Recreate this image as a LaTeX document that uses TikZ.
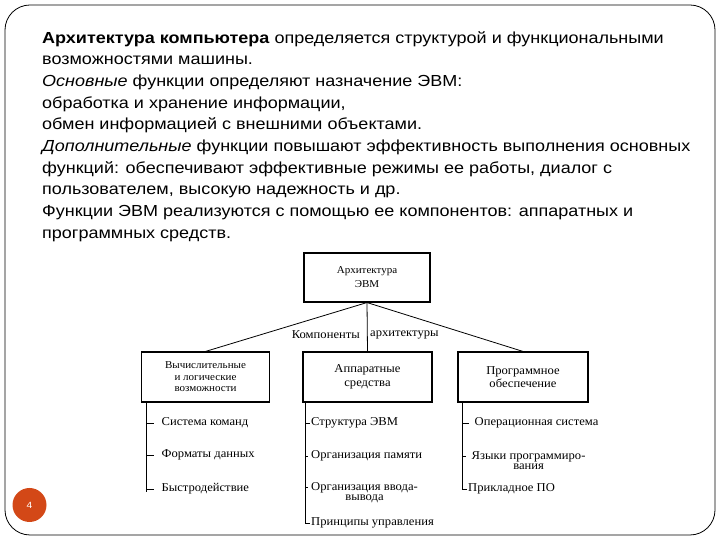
\documentclass[tikz,border=0pt]{standalone}
\usepackage{fontspec}
\setmainfont[FakeStretch=1.125]{Liberation Sans}
\newfontfamily\schemefont[FakeStretch=1.05]{Liberation Serif}
\usetikzlibrary{positioning}
\definecolor{pagedot}{HTML}{D34817}

\begin{document}
\begin{tikzpicture}[x=1pt, y=1pt,
    box/.style={rectangle, draw=black, line width=1.1pt, align=center, inner sep=2pt,
      font=\schemefont\fontsize{12}{13.5}\selectfont},
    item/.style={anchor=west, align=center, inner sep=1.5pt,
      font=\schemefont\fontsize{12}{10.5}\selectfont},
    link/.style={draw=black, line width=0.8pt},
    tick/.style={link, shorten >=#1},
    tick/.default=6pt
  ]
  \useasboundingbox (0,0) rectangle (720,540);

  % Slide frame and page number
  \draw[line width=0.8pt, rounded corners=25pt] (5,5) rectangle (715,535);
  \node[circle, fill=pagedot, minimum size=34pt, inner sep=0pt, text=white,
    font=\fontsize{9}{10}\selectfont] (pagenum) at (29.5,35) {4};

  % Slide text
  \node[anchor=north west, align=left, inner sep=0pt, font=\fontsize{16}{21.7}\selectfont] (intro) at (42,509) {%
    \textbf{Архитектура компьютера} определяется структурой и функциональными\\
    возможностями машины.\\
    \textit{Основные} функции определяют назначение ЭВМ:\\
    обработка и хранение информации,\\
    обмен информацией с внешними объектами.\\
    \textit{Дополнительные} функции повышают эффективность выполнения основных\\
    функций: обеспечивают эффективные режимы ее работы, диалог с\\
    пользователем, высокую надежность и др.\\
    Функции ЭВМ реализуются с помощью ее компонентов: аппаратных и\\
    программных средств.};

  % Boxes manually positioned
  \node[box, minimum width=126pt, minimum height=49pt,
    font=\schemefont\fontsize{10.5}{14}\selectfont] (arch) at (367,262.5) {Архитектура\\ЭВМ};
  \node[box, minimum width=128pt, minimum height=50pt,
    font=\schemefont\fontsize{10.5}{11.5}\selectfont] (calc) at (205.5,163) {Вычислительные\\и логические\\возможности};
  \node[box, minimum width=129pt, minimum height=50pt] (hw) at (367.5,163) {Аппаратные\\средства};
  \node[box, minimum width=130pt, minimum height=50pt] (sw) at (523,163) {Программное\\обеспечение};

  % Components of the architecture
  \draw[link] (arch.south) -- (calc.north);
  \draw[link] (arch.south) -- (hw.north);
  \draw[link] (arch.south) -- (sw.north);
  \node[anchor=east, inner sep=0pt, font=\schemefont\fontsize{12}{12}\selectfont] (complabel) at (360,205) {Компоненты};
  \node[anchor=west, inner sep=0pt, font=\schemefont\fontsize{12}{12}\selectfont] (archlabel) at (370,205) {архитектуры};

  % Items under the boxes
  \node[item] (c1) at (160,117) {Система команд};
  \node[item] (c2) at (160,85) {Форматы данных};
  \node[item] (c3) at (160,51) {Быстродействие};

  \node[item] (h1) at (309.5,117) {Структура ЭВМ};
  \node[item] (h2) at (309.5,84) {Организация памяти};
  \node[item] (h3) at (309.5,47.5) {Организация ввода-\\вывода};
  \node[item] (h4) at (309.5,17) {Принципы управления};

  \node[item] (s1) at (473,117) {Операционная система};
  \node[item] (s2) at (470,79.5) {Языки программиро-\\вания};
  \node[item] (s3) at (466.5,51) {Прикладное ПО};

  % Tree lines
  \coordinate (ctop) at (146,138);
  \coordinate (htop) at (305,138);
  \coordinate (stop) at (462,138);

  \draw[link] (ctop) -- ([yshift=-3pt]ctop |- c3.west);
  \draw[tick] (ctop |- c1.west) -- (c1.west);
  \draw[tick] (ctop |- c2.west) -- (c2.west);
  \draw[tick] (ctop |- c3.west) -- (c3.west);

  \draw[link] (htop) |- (h4.west);
  \draw[tick=0pt] (htop |- h1.west) -- (h1.west);
  \draw[tick=2pt] (htop |- h2.west) -- (h2.west);
  \draw[tick=2pt] ([yshift=-7pt]htop |- h3.north west) -- ([yshift=-7pt]h3.north west);

  \draw[link] (stop) |- (s3.west);
  \draw[tick=4pt] (stop |- s1.west) -- (s1.west);
  \draw[tick=4pt] ([yshift=-7pt]stop |- s2.north west) -- ([yshift=-7pt]s2.north west);

\end{tikzpicture}
\end{document}
